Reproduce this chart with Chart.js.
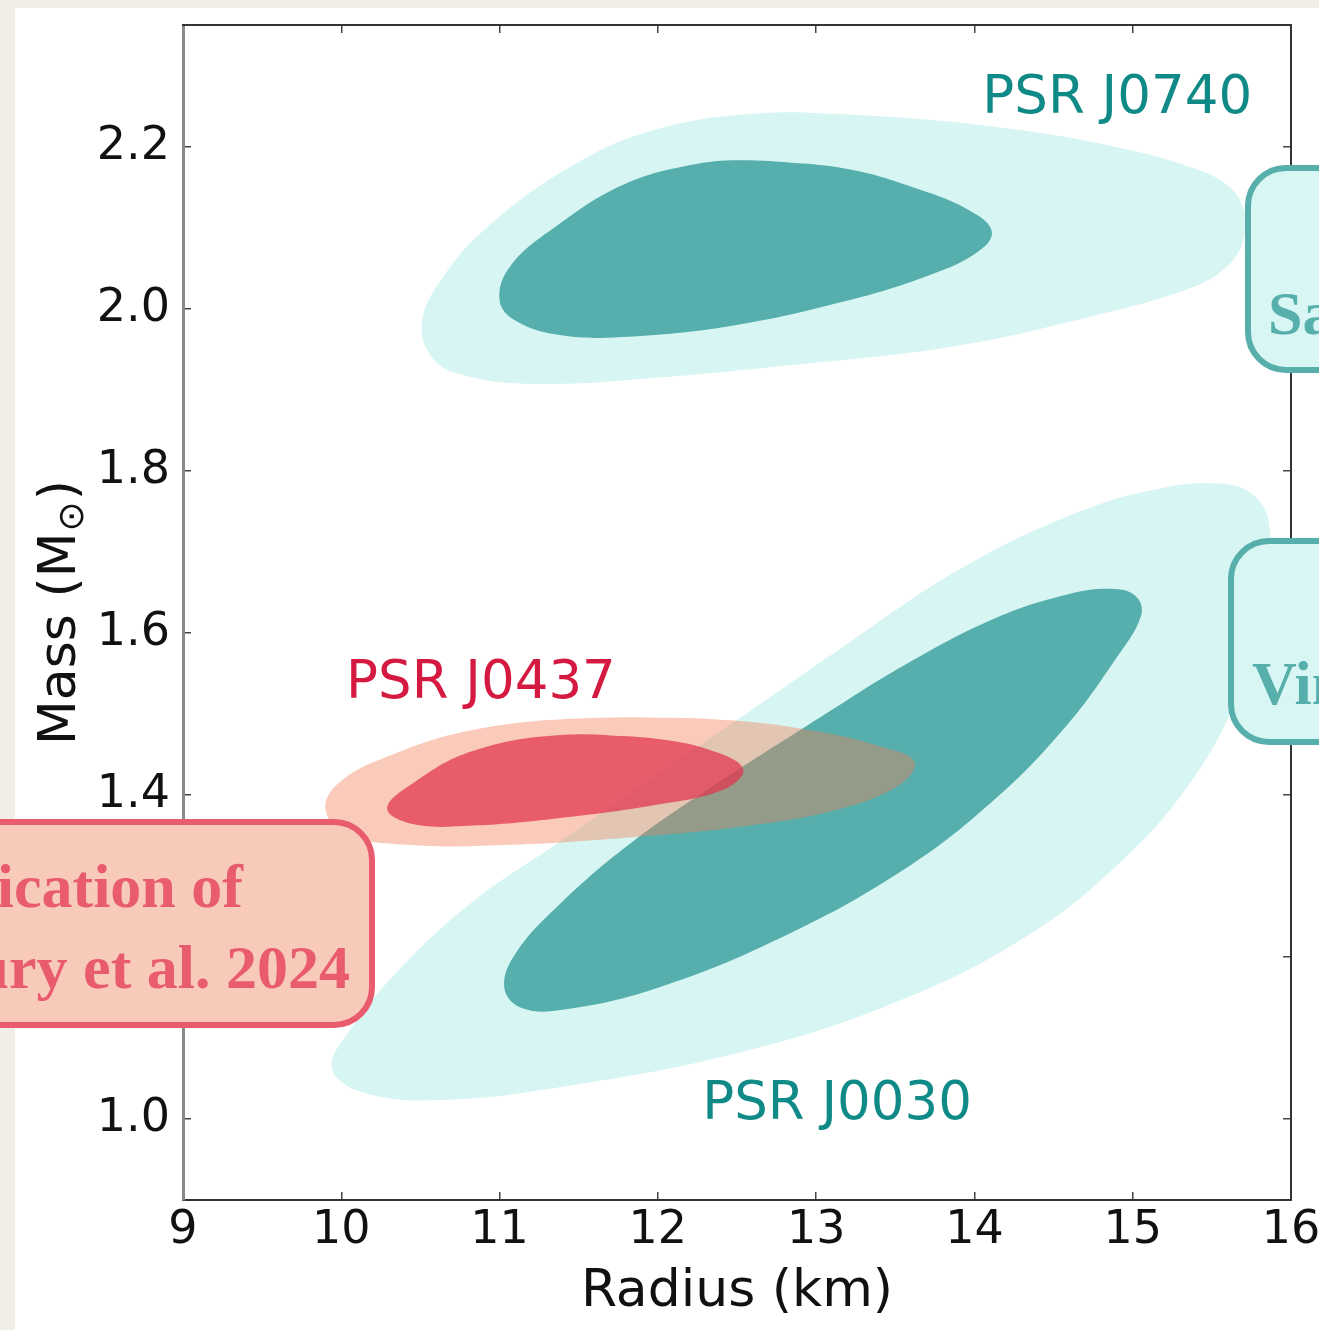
<!DOCTYPE html>
<html>
<head>
<meta charset="utf-8">
<title>NICER mass-radius constraints</title>
<script src="https://cdn.jsdelivr.net/npm/chart.js@4.4.1/dist/chart.umd.min.js"></script>
<style>
  html, body { margin: 0; padding: 0; background: #f1eee7; }
  #wrap { position: relative; width: 1319px; height: 1330px; }
</style>
</head>
<body>
<div id="wrap"><canvas id="chart_massRadius"></canvas></div>
<script>
// axis ticks
const radiusTicks = [9, 10, 11, 12, 13, 14, 15, 16];
const massTicks = [1.0, 1.2, 1.4, 1.6, 1.8, 2.0, 2.2];

// PSR J0740 credible regions (outer / inner), radius in km, mass in Msun
const j0740OuterRadius = [12.65, 13.35, 14.23, 14.93, 15.39, 15.60, 15.70, 15.70, 15.60, 15.36, 14.75, 13.88, 12.83, 11.95, 11.25, 10.79, 10.58, 10.51, 10.65, 10.93, 11.43, 11.95];
const j0740OuterMass   = [2.241, 2.238, 2.222, 2.198, 2.173, 2.152, 2.123, 2.086, 2.053, 2.025, 1.991, 1.954, 1.930, 1.914, 1.907, 1.917, 1.938, 1.984, 2.041, 2.102, 2.173, 2.219];
const j0740InnerRadius = [12.58, 13.18, 13.64, 13.98, 14.11, 14.02, 13.71, 13.18, 12.47, 11.77, 11.39, 11.11, 11.00, 11.07, 11.36, 11.77, 12.20];
const j0740InnerMass   = [2.183, 2.173, 2.148, 2.120, 2.095, 2.070, 2.041, 2.009, 1.979, 1.965, 1.967, 1.984, 2.010, 2.053, 2.102, 2.152, 2.177];

// PSR J0030
const j0030OuterRadius = [13.15, 12.52, 11.95, 11.38, 10.81, 10.34, 10.06, 9.94, 10.10, 10.56, 11.41, 12.58, 13.54, 14.31, 14.89, 15.36, 15.67, 15.84, 15.86, 15.75, 15.55, 15.20, 14.70, 13.93];
const j0030OuterMass   = [1.580, 1.495, 1.419, 1.342, 1.265, 1.179, 1.111, 1.064, 1.035, 1.023, 1.040, 1.085, 1.147, 1.223, 1.311, 1.414, 1.526, 1.649, 1.736, 1.772, 1.784, 1.779, 1.752, 1.681];
const j0030InnerRadius = [13.54, 12.94, 12.39, 11.84, 11.38, 11.10, 11.03, 11.14, 11.41, 12.00, 12.77, 13.54, 14.12, 14.58, 14.89, 15.05, 15.03, 14.89, 14.58, 14.12];
const j0030InnerMass   = [1.558, 1.485, 1.416, 1.342, 1.265, 1.204, 1.162, 1.137, 1.135, 1.162, 1.223, 1.306, 1.393, 1.485, 1.567, 1.619, 1.643, 1.654, 1.647, 1.617];

// PSR J0437
const j0437OuterRadius = [11.61, 12.38, 12.96, 13.42, 13.62, 13.54, 13.16, 12.58, 11.80, 11.03, 10.45, 10.02, 9.90, 9.98, 10.25, 10.83];
const j0437OuterMass   = [1.495, 1.493, 1.480, 1.459, 1.441, 1.414, 1.383, 1.362, 1.347, 1.338, 1.338, 1.352, 1.383, 1.414, 1.444, 1.480];
const j0437InnerRadius = [11.41, 12.00, 12.38, 12.54, 12.42, 12.00, 11.41, 10.83, 10.45, 10.29, 10.45, 10.83];
const j0437InnerMass   = [1.474, 1.469, 1.452, 1.431, 1.407, 1.388, 1.372, 1.362, 1.364, 1.383, 1.414, 1.454];

const pulsarLabels = [
  { text: 'PSR J0740', r: 14.05, m: 2.241, color: '#0f8a86' },
  { text: 'PSR J0437', r: 10.03, m: 1.519, color: '#d51a42' },
  { text: 'PSR J0030', r: 12.28, m: 1.000, color: '#0f8a86' }
];

const TEAL_LIGHT = '#d7f6f3';
const TEAL_DARK = '#56afac';
const PINK_LIGHT = 'rgba(242, 125, 82, 0.4)';
const PINK_DARK = 'rgba(226, 55, 82, 0.75)';

Chart.defaults.font.family = '"DejaVu Sans", sans-serif';

// closed contour: repeat the first points so the spline wraps smoothly
function contour(radius, mass) {
  const pts = radius.map((r, i) => ({ x: r, y: mass[i] }));
  return pts.concat(pts.slice(0, 2));
}

function region(label, radius, mass, color, order) {
  return {
    label: label,
    data: contour(radius, mass),
    showLine: true,
    fill: 'shape',
    backgroundColor: color,
    borderWidth: 0,
    borderColor: 'rgba(0,0,0,0)',
    pointRadius: 0,
    pointHoverRadius: 0,
    tension: 0.4,
    order: order
  };
}

const edgeGrid = { drawOnChartArea: false, drawTicks: true, tickLength: -8, color: '#444', lineWidth: 1.5 };

var chart_massRadius = new Chart(document.getElementById('chart_massRadius'), {
    type: 'scatter',
    data: {
        datasets: [
            region('J0437 inner', j0437InnerRadius, j0437InnerMass, PINK_DARK, 1),
            region('J0437 outer', j0437OuterRadius, j0437OuterMass, PINK_LIGHT, 2),
            region('J0030 inner', j0030InnerRadius, j0030InnerMass, TEAL_DARK, 3),
            region('J0030 outer', j0030OuterRadius, j0030OuterMass, TEAL_LIGHT, 4),
            region('J0740 inner', j0740InnerRadius, j0740InnerMass, TEAL_DARK, 5),
            region('J0740 outer', j0740OuterRadius, j0740OuterMass, TEAL_LIGHT, 6)
        ]
    },
    options: {
        animation: false,
        responsive: true,
        maintainAspectRatio: false,
        events: [],
        layout: { padding: { left: 0, right: 28, top: 25, bottom: 0 } },
        plugins: {
            legend: { display: false },
            tooltip: { enabled: false }
        },
        scales: {
            x: {
                type: 'linear',
                position: 'bottom',
                min: 9,
                max: 16,
                afterBuildTicks: s => { s.ticks = radiusTicks.map(v => ({ value: v })); },
                afterFit: s => { s.height = 130; s.paddingLeft = 0; s.paddingRight = 0; },
                border: { color: '#333', width: 2 },
                grid: edgeGrid,
                ticks: { autoSkip: false, maxRotation: 0, padding: 11, color: '#111', font: { size: 46 } },
                title: { display: true, text: 'Radius (km)', color: '#111', font: { size: 52 }, padding: { top: 0, bottom: 6 } }
            },
            y: {
                type: 'linear',
                position: 'left',
                min: 0.9,
                max: 2.35,
                afterBuildTicks: s => { s.ticks = massTicks.map(v => ({ value: v })); },
                afterFit: s => { s.width = 183; s.paddingTop = 0; s.paddingBottom = 0; },
                border: { color: '#8a8a8a', width: 3 },
                grid: edgeGrid,
                ticks: {
                    autoSkip: false, padding: 21, color: '#111', font: { size: 46 },
                    callback: v => v.toFixed(1)
                }
            },
            x2: {
                type: 'linear',
                position: 'top',
                min: 9,
                max: 16,
                afterBuildTicks: s => { s.ticks = radiusTicks.map(v => ({ value: v })); },
                afterFit: s => { s.height = 0; s.paddingLeft = 0; s.paddingRight = 0; },
                border: { color: '#333', width: 2 },
                grid: edgeGrid,
                ticks: { display: false }
            },
            y2: {
                type: 'linear',
                position: 'right',
                min: 0.9,
                max: 2.35,
                afterBuildTicks: s => { s.ticks = massTicks.map(v => ({ value: v })); },
                afterFit: s => { s.width = 0; s.paddingTop = 0; s.paddingBottom = 0; },
                border: { color: '#333', width: 2 },
                grid: edgeGrid,
                ticks: { display: false }
            }
        }
    },
    plugins: [{
        id: 'pageBackground',
        beforeDraw: (chart) => {
            const ctx = chart.ctx;
            ctx.save();
            ctx.fillStyle = '#f1eee7';
            ctx.fillRect(0, 0, chart.width, chart.height);
            ctx.fillStyle = '#ffffff';
            ctx.fillRect(15, 8, chart.width - 15, chart.height - 8);
            ctx.restore();
        }
    }, {
        id: 'pulsarNames',
        afterDatasetsDraw: (chart) => {
            const ctx = chart.ctx;
            const xs = chart.scales.x, ys = chart.scales.y;
            ctx.save();
            ctx.font = '53px "DejaVu Sans"';
            ctx.textAlign = 'left';
            ctx.textBaseline = 'alphabetic';
            pulsarLabels.forEach(l => {
                ctx.fillStyle = l.color;
                ctx.fillText(l.text, xs.getPixelForValue(l.r), ys.getPixelForValue(l.m));
            });
            ctx.restore();
        }
    }, {
        id: 'massTitle',
        afterDraw: (chart) => {
            // "Mass (M☉)" with the solar symbol set as a subscript
            const ctx = chart.ctx;
            const ys = chart.scales.y;
            const cy = (ys.top + ys.bottom) / 2;
            const big = '52px "DejaVu Sans"', small = '36px "DejaVu Sans"';
            ctx.save();
            ctx.translate(75, cy);
            ctx.rotate(-Math.PI / 2);
            ctx.fillStyle = '#111';
            ctx.textBaseline = 'alphabetic';
            ctx.textAlign = 'left';
            ctx.font = big;
            const w1 = ctx.measureText('Mass (M').width;
            const w3 = ctx.measureText(')').width;
            ctx.font = small;
            const w2 = ctx.measureText('\u2299').width;
            let x = -(w1 + w2 + w3 + 2) / 2;
            ctx.font = big;
            ctx.fillText('Mass (M', x, 0);
            x += w1 + 1;
            ctx.font = small;
            ctx.fillText('\u2299', x, 8);
            x += w2 + 1;
            ctx.font = big;
            ctx.fillText(')', x, 0);
            ctx.restore();
        }
    }, {
        id: 'referenceBoxes',
        afterDraw: (chart) => {
            const ctx = chart.ctx;
            const box = (x, y, w, h, fill, stroke) => {
                ctx.beginPath();
                ctx.roundRect(x, y, w, h, 38);
                ctx.fillStyle = fill;
                ctx.fill();
                ctx.lineWidth = 6;
                ctx.strokeStyle = stroke;
                ctx.stroke();
            };
            ctx.save();
            box(-60, 822, 432, 203, '#f8cab9', '#e85c6e');
            box(1248, 168, 200, 202, '#d8f6f3', '#56afab');
            box(1231, 541, 200, 201, '#d8f6f3', '#56afab');

            ctx.font = 'bold 62px "Liberation Serif"';
            ctx.textBaseline = 'alphabetic';
            ctx.fillStyle = '#e85c6e';
            ctx.textAlign = 'right';
            ctx.fillText('Verification of', 243, 907);
            ctx.fillText('Choudhury et al. 2024', 350, 988);

            ctx.fillStyle = '#56afab';
            ctx.textAlign = 'left';
            ctx.fillText('Salmi et al. 2024', 1268, 334);
            ctx.fillText('Vinciguerra et al. 2024', 1252, 704);
            ctx.restore();
        }
    }]
});
</script>
</body>
</html>
